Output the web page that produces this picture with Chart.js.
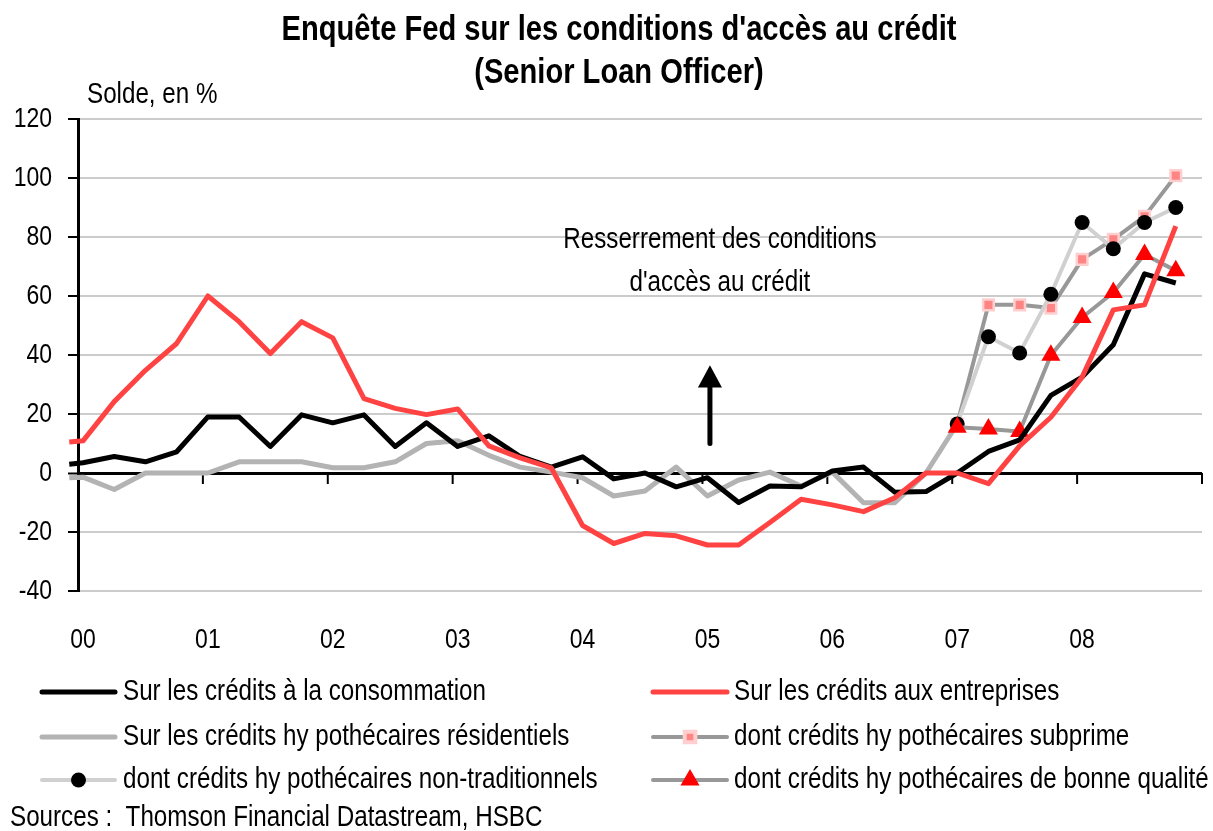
<!DOCTYPE html>
<html lang="fr">
<head>
<meta charset="utf-8">
<title>Enquête Fed sur les conditions d'accès au crédit</title>
<script src="https://cdn.jsdelivr.net/npm/chart.js@4.4.1/dist/chart.umd.min.js"></script>
<style>
  html, body { margin: 0; padding: 0; background: #fff; }
  #wrap { width: 1213px; height: 831px; }
</style>
</head>
<body>
<div id="wrap"><canvas id="sloosChart" width="1213" height="831"></canvas></div>
<script>
// ---------- DATA ----------
// survey dates as decimal years (first one is the late-1999 survey)
const dates = [
    1999.93,
    2000.04, 2000.29, 2000.54, 2000.79,
    2001.04, 2001.29, 2001.54, 2001.79,
    2002.04, 2002.29, 2002.54, 2002.79,
    2003.04, 2003.29, 2003.54, 2003.79,
    2004.04, 2004.29, 2004.54, 2004.79,
    2005.04, 2005.29, 2005.54, 2005.79,
    2006.04, 2006.29, 2006.54, 2006.79,
    2007.04, 2007.29, 2007.54, 2007.79,
    2008.04, 2008.29, 2008.54, 2008.79
];

// Sur les crédits à la consommation
const consumer = [
    3,
    3.5, 5.6, 3.8, 7.2,
    19, 19, 9, 19.7,
    17, 19.7, 9, 17,
    9, 12.6, 5.6, 2,
    5.5, -2, 0, -4.7,
    -1.6, -10, -4.4, -4.7,
    0.7, 2, -6.5, -6.3,
    0, 7.3, 11.2, 26.3,
    32.5, 43.5, 67.5, 64.4
];

// Sur les crédits aux entreprises
const business = [
    10.5,
    10.9, 24.2, 34.8, 43.9,
    60, 51.3, 40.5, 51.3,
    45.8, 25.2, 21.9, 19.8,
    21.7, 9.2, 5.1, 1.7,
    -17.8, -23.9, -20.5, -21.3,
    -24.4, -24.4, -16.8, -8.9,
    -10.8, -13.1, -8.4, 0,
    0, -3.6, 9.2, 18.9,
    32.5, 55.3, 57, 83.7
];

// Sur les crédits hypothécaires résidentiels (stops at 2007 Q1)
const residential = [
    -1.6,
    -1.4, -5.6, 0, 0,
    0, 3.8, 3.8, 3.8,
    1.8, 1.8, 3.8, 10,
    10.9, 6, 2, 0.3,
    -1.6, -7.8, -6.1, 2,
    -7.8, -2.4, 0.3, -4.4,
    0.3, -10.1, -10.1, 0,
    16.6
];

// 2007 Q1 - 2008 Q4 split of mortgages
const subprime = [16.6, 57, 57, 55.9, 72.4, 79.2, 87, 100.8];
const nonTraditional = [16.6, 46.2, 40.7, 60.6, 84.9, 76, 84.9, 90];
const prime = [15.5, 14.9, 14.1, 39.9, 52.7, 61.2, 74.1, 68.6];

// x-axis
const xLabels = ["00", "01", "02", "03", "04", "05", "06", "07", "08"];
const labelPos = [2000.04, 2001.04, 2002.04, 2003.04, 2004.04, 2005.04, 2006.04, 2007.04, 2008.04];
const yearMarks = [2000, 2001, 2002, 2003, 2004, 2005, 2006, 2007, 2008, 2009];

const seriesNames = [
    "Sur les crédits à la consommation",
    "Sur les crédits aux entreprises",
    "Sur les crédits hy pothécaires résidentiels",
    "dont crédits hy pothécaires subprime",
    "dont crédits hy pothécaires non-traditionnels",
    "dont crédits hy pothécaires de bonne qualité"
];

// ---------- HELPERS ----------
// Arial Narrow look: Liberation Sans squeezed horizontally
const FONT = '"Liberation Sans", Arial, sans-serif';
const NARROW = 0.82;

const toPoints = (xs, ys) => ys.map((v, i) => ({ x: xs[i], y: v }));
const splitDates = dates.slice(29);

function narrowText(ctx, text, x, y, align, font) {
    ctx.save();
    ctx.font = font;
    ctx.textAlign = align;
    ctx.textBaseline = "middle";
    ctx.fillStyle = "#000";
    ctx.translate(x, y);
    ctx.scale(NARROW, 1);
    ctx.fillText(text, 0, 0);
    ctx.restore();
}

// ---------- DECORATIONS ----------
const decorPlugin = {
    id: "decor",
    beforeDatasetsDraw(chart) {
        const { ctx, scales: { x, y } } = chart;
        const y0 = y.getPixelForValue(0);
        ctx.save();
        ctx.strokeStyle = "#000";
        ctx.lineWidth = 2;
        yearMarks.forEach(v => {
            const px = x.getPixelForValue(v);
            ctx.beginPath();
            ctx.moveTo(px, y0);
            ctx.lineTo(px, y0 + 11);
            ctx.stroke();
        });
        ctx.restore();
    },
    afterDraw(chart) {
        const { ctx, scales: { x, y } } = chart;
        const txt = "29.5px " + FONT;
        const tick = "28px " + FONT;

        // tick labels
        y.ticks.forEach(t => narrowText(ctx, String(t.value), 52, y.getPixelForValue(t.value), "right", tick));
        x.ticks.forEach((t, i) => narrowText(ctx, xLabels[i], x.getPixelForValue(t.value), 640, "center", tick));

        // title
        const ttl = "bold 35.5px " + FONT;
        narrowText(ctx, "Enquête Fed sur les conditions d'accès au crédit", 619, 30, "center", ttl);
        narrowText(ctx, "(Senior Loan Officer)", 619, 73, "center", ttl);

        // unit
        narrowText(ctx, "Solde, en %", 87, 95, "left", txt);

        // annotation
        const ax = x.getPixelForValue(2005.14);
        narrowText(ctx, "Resserrement des conditions", ax, y.getPixelForValue(79), "center", txt);
        narrowText(ctx, "d'accès au crédit", ax, y.getPixelForValue(64.5), "center", txt);

        // arrow
        ctx.save();
        const arx = x.getPixelForValue(2005.06);
        ctx.strokeStyle = "#000";
        ctx.fillStyle = "#000";
        ctx.lineWidth = 5;
        ctx.lineCap = "round";
        ctx.beginPath();
        ctx.moveTo(arx, y.getPixelForValue(10));
        ctx.lineTo(arx, y.getPixelForValue(30));
        ctx.stroke();
        ctx.beginPath();
        ctx.moveTo(arx, y.getPixelForValue(36.5));
        ctx.lineTo(arx + 12, y.getPixelForValue(29));
        ctx.lineTo(arx - 12, y.getPixelForValue(29));
        ctx.closePath();
        ctx.fill();
        ctx.restore();

        // legend, two columns
        const cols = [{ x1: 42, x2: 115, tx: 123 }, { x1: 653, x2: 727, tx: 734 }];
        const rows = [692, 737, 780];
        chart.data.datasets.forEach((ds, i) => {
            const c = cols[i % 2];
            const ry = rows[Math.floor(i / 2)];
            ctx.save();
            ctx.strokeStyle = ds.borderColor;
            ctx.lineWidth = ds.borderWidth;
            ctx.lineCap = "round";
            ctx.beginPath();
            ctx.moveTo(c.x1, ry);
            ctx.lineTo(c.x2, ry);
            ctx.stroke();
            if (ds.pointRadius > 0) {
                ctx.fillStyle = ds.pointBackgroundColor;
                ctx.strokeStyle = ds.pointBorderColor;
                Chart.helpers.drawPoint(ctx, {
                    pointStyle: ds.pointStyle,
                    radius: ds.pointRadius,
                    rotation: 0,
                    borderWidth: ds.pointBorderWidth
                }, (c.x1 + c.x2) / 2, ry);
            }
            ctx.restore();
            narrowText(ctx, ds.label, c.tx, ry, "left", txt);
        });

        // source
        narrowText(ctx, "Sources :  Thomson Financial Datastream, HSBC", 10, 818, "left", txt);
    }
};

// ---------- CHART ----------
const canvas = document.getElementById("sloosChart");

new Chart(canvas, {
    type: "line",
    data: {
        datasets: [
            {
                label: seriesNames[0],
                data: toPoints(dates, consumer),
                borderColor: "#000000",
                borderWidth: 5,
                pointRadius: 0,
                order: 2
            },
            {
                label: seriesNames[1],
                data: toPoints(dates, business),
                borderColor: "#ff4343",
                borderWidth: 5,
                pointRadius: 0,
                order: 1
            },
            {
                label: seriesNames[2],
                data: toPoints(dates, residential),
                borderColor: "#b3b3b3",
                borderWidth: 5,
                pointRadius: 0,
                order: 6
            },
            {
                label: seriesNames[3],
                data: toPoints(splitDates, subprime),
                borderColor: "#989898",
                borderWidth: 4,
                pointStyle: "rect",
                pointRadius: 7.5,
                pointBackgroundColor: "#ff8585",
                pointBorderColor: "#ffcfcf",
                pointBorderWidth: 2.5,
                order: 5
            },
            {
                label: seriesNames[4],
                data: toPoints(splitDates, nonTraditional),
                borderColor: "#d0d0d0",
                borderWidth: 4,
                pointStyle: "circle",
                pointRadius: 7.5,
                pointBackgroundColor: "#000000",
                pointBorderColor: "#000000",
                pointBorderWidth: 0,
                order: 4
            },
            {
                label: seriesNames[5],
                data: toPoints(splitDates, prime),
                borderColor: "#989898",
                borderWidth: 4,
                pointStyle: "triangle",
                pointRadius: 11,
                pointBackgroundColor: "#ff0000",
                pointBorderColor: "#ff0000",
                pointBorderWidth: 0,
                order: 3
            }
        ]
    },
    plugins: [decorPlugin],
    options: {
        responsive: false,
        animation: false,
        events: [],
        clip: false,
        elements: {
            line: { tension: 0, borderJoinStyle: "round", fill: false },
            point: { hoverRadius: 0 }
        },
        layout: { padding: { top: 119, right: 2, bottom: 0, left: 0 } },
        plugins: {
            legend: { display: false },
            title: { display: false },
            tooltip: { enabled: false }
        },
        scales: {
            x: {
                type: "linear",
                min: 2000,
                max: 2009,
                grid: { display: false, drawTicks: false },
                border: { display: false },
                afterBuildTicks(scale) {
                    scale.ticks = labelPos.map(v => ({ value: v }));
                },
                afterFit(scale) {
                    scale.height = 240;
                },
                ticks: { display: false, autoSkip: false, maxRotation: 0 }
            },
            y: {
                min: -40,
                max: 120,
                afterFit(scale) {
                    scale.width = 78;
                },
                grid: {
                    color: c => (c.tick && c.tick.value === 0 ? "#000" : "#cccccc"),
                    lineWidth: c => (c.tick && c.tick.value === 0 ? 3 : 2),
                    tickLength: 10,
                    tickColor: "#000",
                    tickWidth: 2
                },
                border: { color: "#000", width: 3 },
                ticks: { display: false, stepSize: 20 }
            }
        }
    }
});
</script>
</body>
</html>
